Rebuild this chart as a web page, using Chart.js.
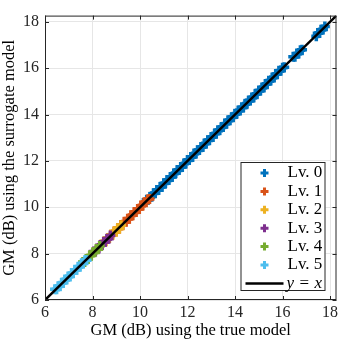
<!DOCTYPE html>
<html>
<head>
<meta charset="utf-8">
<script src="https://cdn.jsdelivr.net/npm/chart.js@4.4.0/dist/chart.umd.min.js"></script>
<style>
  html, body { margin: 0; padding: 0; background: #fff; }
  #wrap { width: 345px; height: 341px; }
</style>
</head>
<body>
<div id="wrap"><canvas id="c"></canvas></div>
<script>
// levels and colours (MATLAB default order)
const levelNames = ['Lv. 0', 'Lv. 1', 'Lv. 2', 'Lv. 3', 'Lv. 4', 'Lv. 5'];
const levelColors = ['#0072BD', '#D95319', '#EDB120', '#7E2F8E', '#77AC30', '#4DBEEE'];
const tickVals = [6, 8, 10, 12, 14, 16, 18];
const axisMin = 6;
const axisMax = 18.27;

// GM (dB): true model vs surrogate model, per level
const lv0True = [10.28, 10.35, 10.42, 10.5, 10.57, 10.64, 10.71, 10.78, 10.85, 10.92, 11.0, 11.07, 11.14, 11.21, 11.28, 11.35, 11.42, 11.5, 11.57, 11.64, 11.71, 11.78, 11.85, 11.92, 12.0, 12.07, 12.14, 12.21, 12.28, 12.35, 12.42, 12.5, 12.57, 12.64, 12.71, 12.78, 12.85, 12.92, 13.0, 13.07, 13.14, 13.21, 13.28, 13.35, 13.42, 13.5, 13.57, 13.64, 13.71, 13.78, 13.85, 13.92, 14.0, 14.07, 14.14, 14.21, 14.28, 14.35, 14.42, 14.5, 14.57, 14.64, 14.71, 14.78, 14.85, 14.92, 15.0, 15.07, 15.14, 15.21, 15.28, 15.35, 15.42, 15.5, 15.57, 15.64, 15.71, 15.78, 15.85, 15.92, 16.0, 16.07, 16.45, 16.52, 16.6, 16.68, 16.75, 16.82, 17.42, 17.48, 17.55, 17.62, 17.7, 17.78];
const lv0Surr = [10.32, 10.32, 10.44, 10.46, 10.6, 10.62, 10.75, 10.75, 10.87, 10.88, 11.03, 11.05, 11.18, 11.18, 11.3, 11.31, 11.45, 11.48, 11.61, 11.61, 11.73, 11.74, 11.88, 11.9, 12.04, 12.04, 12.16, 12.17, 12.31, 12.33, 12.46, 12.47, 12.59, 12.6, 12.74, 12.76, 12.89, 12.89, 13.02, 13.03, 13.17, 13.19, 13.32, 13.32, 13.44, 13.46, 13.6, 13.62, 13.75, 13.75, 13.87, 13.88, 14.03, 14.05, 14.18, 14.18, 14.3, 14.31, 14.45, 14.48, 14.61, 14.61, 14.73, 14.74, 14.88, 14.9, 15.04, 15.04, 15.16, 15.17, 15.31, 15.33, 15.46, 15.47, 15.59, 15.6, 15.74, 15.76, 15.89, 15.89, 16.02, 16.04, 16.49, 16.49, 16.62, 16.64, 16.78, 16.8, 17.38, 17.51, 17.53, 17.66, 17.67, 17.8];
const lv1True = [8.92, 8.99, 9.06, 9.13, 9.2, 9.27, 9.34, 9.41, 9.48, 9.55, 9.62, 9.69, 9.76, 9.83, 9.9, 9.97, 10.04, 10.11, 10.18, 10.25, 10.32, 10.4];
const lv1Surr = [8.96, 8.96, 9.08, 9.09, 9.23, 9.25, 9.38, 9.38, 9.5, 9.51, 9.65, 9.67, 9.8, 9.8, 9.92, 9.93, 10.07, 10.09, 10.22, 10.22, 10.34, 10.36];
const lv2True = [8.5, 8.57, 8.64, 8.71, 8.78, 8.85, 8.92, 8.99, 9.06, 9.13, 9.2];
const lv2Surr = [8.54, 8.54, 8.66, 8.67, 8.81, 8.83, 8.96, 8.96, 9.08, 9.09, 9.23];
const lv3True = [8.05, 8.12, 8.19, 8.26, 8.33, 8.4, 8.47, 8.54, 8.61, 8.68, 8.75];
const lv3Surr = [8.09, 8.09, 8.21, 8.22, 8.36, 8.38, 8.51, 8.51, 8.63, 8.64, 8.78];
const lv4True = [7.6, 7.67, 7.74, 7.81, 7.88, 7.95, 8.02, 8.09, 8.16, 8.23, 8.3];
const lv4Surr = [7.64, 7.64, 7.76, 7.77, 7.91, 7.93, 8.06, 8.06, 8.18, 8.19, 8.33];
const lv5True = [6.42, 6.49, 6.56, 6.63, 6.7, 6.77, 6.84, 6.91, 6.98, 7.05, 7.12, 7.19, 7.26, 7.33, 7.4, 7.47, 7.54, 7.61, 7.68, 7.75];
const lv5Surr = [6.46, 6.46, 6.58, 6.59, 6.73, 6.75, 6.88, 6.88, 7.0, 7.01, 7.15, 7.17, 7.3, 7.3, 7.42, 7.43, 7.57, 7.59, 7.72, 7.72];
const identityLine = [6, 18.27];

const levelTrue = [lv0True, lv1True, lv2True, lv3True, lv4True, lv5True];
const levelSurr = [lv0Surr, lv1Surr, lv2Surr, lv3Surr, lv4Surr, lv5Surr];

const FONT = '"Liberation Serif", "Times New Roman", serif';
const frameColor = '#262626';

const datasets = levelNames.map((name, i) => ({
  type: 'scatter',
  label: name,
  data: levelTrue[i].map((v, k) => ({ x: v, y: levelSurr[i][k] })),
  pointStyle: 'cross',
  radius: 5,
  borderWidth: 3.5,
  borderColor: levelColors[i],
  backgroundColor: levelColors[i],
  order: 6 - i + 1
}));
datasets.push({
  type: 'line',
  label: 'y = x',
  data: identityLine.map(v => ({ x: v, y: v })),
  borderColor: '#000',
  borderWidth: 2.5,
  pointRadius: 0,
  fill: false,
  order: 0
});

// frame with inward ticks, MATLAB style
const framePlugin = {
  id: 'frame',
  afterDraw(chart) {
    const { ctx, chartArea: a, scales } = chart;
    ctx.save();
    ctx.strokeStyle = frameColor;
    ctx.lineWidth = 1;
    ctx.strokeRect(a.left + 0.5, a.top + 0.5, a.right - a.left - 1, a.bottom - a.top - 1);
    const len = 4;
    ctx.beginPath();
    tickVals.forEach(v => {
      const px = Math.round(scales.x.getPixelForValue(v)) + 0.5;
      ctx.moveTo(px, a.bottom); ctx.lineTo(px, a.bottom - len);
      ctx.moveTo(px, a.top); ctx.lineTo(px, a.top + len);
      const py = Math.round(scales.y.getPixelForValue(v)) + 0.5;
      ctx.moveTo(a.left, py); ctx.lineTo(a.left + len, py);
      ctx.moveTo(a.right, py); ctx.lineTo(a.right - len, py);
    });
    ctx.stroke();
    ctx.restore();
  }
};

// legend box in the lower right corner
const legendPlugin = {
  id: 'boxLegend',
  afterDraw(chart) {
    const { ctx, chartArea: a } = chart;
    const left = a.right - 96, right = a.right - 11, bottom = a.bottom - 9, top = a.bottom - 138;
    const rowH = 18.4;
    ctx.save();
    ctx.fillStyle = '#fff';
    ctx.fillRect(left, top, right - left, bottom - top);
    ctx.strokeStyle = frameColor;
    ctx.lineWidth = 1;
    ctx.strokeRect(left + 0.5, top + 0.5, right - left - 1, bottom - top - 1);
    ctx.font = '17px ' + FONT;
    ctx.textBaseline = 'middle';
    ctx.fillStyle = '#000';
    levelNames.forEach((name, i) => {
      const y = top + 11 + i * rowH;
      const mx = left + 24;
      ctx.strokeStyle = levelColors[i];
      ctx.lineWidth = 3;
      ctx.beginPath();
      ctx.moveTo(mx - 4, y); ctx.lineTo(mx + 4, y);
      ctx.moveTo(mx, y - 4); ctx.lineTo(mx, y + 4);
      ctx.stroke();
      ctx.fillText(name, left + 47, y);
    });
    const y = top + 11 + 6 * rowH;
    ctx.strokeStyle = '#000';
    ctx.lineWidth = 2.5;
    ctx.beginPath();
    ctx.moveTo(left + 5, y); ctx.lineTo(left + 43, y);
    ctx.stroke();
    ctx.font = 'italic 17px ' + FONT;
    ctx.fillText('y', left + 46, y);
    ctx.font = '17px ' + FONT;
    ctx.fillText('=', left + 59, y);
    ctx.font = 'italic 17px ' + FONT;
    ctx.fillText('x', left + 74, y);
    ctx.restore();
  }
};

new Chart(document.getElementById('c'), {
  data: { datasets },
  options: {
    responsive: true,
    maintainAspectRatio: false,
    animation: false,
    layout: { padding: { top: 5, right: 6, left: 0, bottom: 0 } },
    plugins: { legend: { display: false }, tooltip: { enabled: false } },
    scales: {
      x: {
        type: 'linear',
        min: axisMin,
        max: axisMax,
        afterBuildTicks: s => { s.ticks = tickVals.map(v => ({ value: v })); },
        afterFit: s => { s.height = 41; },
        grid: { color: '#e6e6e6', drawTicks: false },
        border: { display: false },
        ticks: { color: '#262626', font: { family: FONT, size: 16 }, padding: 3, maxRotation: 0 },
        title: { display: true, text: 'GM (dB) using the true model', color: '#000', font: { family: FONT, size: 16.5 }, padding: { top: 0, bottom: 0 } }
      },
      y: {
        type: 'linear',
        min: axisMin,
        max: axisMax,
        afterBuildTicks: s => { s.ticks = tickVals.map(v => ({ value: v })); },
        afterFit: s => { s.width = 45; },
        grid: { color: '#e6e6e6', drawTicks: false },
        border: { display: false },
        ticks: { color: '#262626', font: { family: FONT, size: 16 }, padding: 6 },
        title: { display: true, text: 'GM (dB) using the surrogate model', color: '#000', font: { family: FONT, size: 16.5 }, padding: { top: 0, bottom: 1 } }
      }
    }
  },
  plugins: [framePlugin, legendPlugin]
});
</script>
</body>
</html>
